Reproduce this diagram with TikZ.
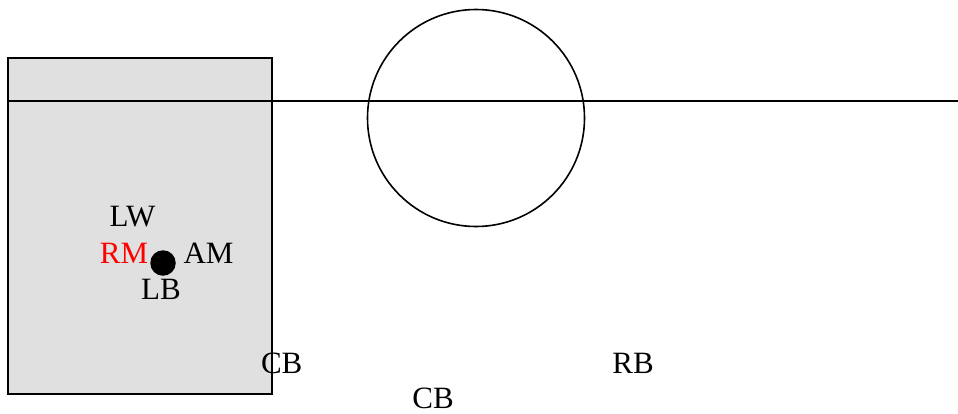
\documentclass[tikz,border=0pt]{standalone}
\usepackage{fontspec}
\setmainfont{Liberation Serif}
\definecolor{panelgray}{HTML}{E0E0E0}
\begin{document}
\begin{tikzpicture}[x=1pt,y=-1pt,
  lbl/.style={inner sep=0pt,anchor=base,font=\fontsize{31}{31}\selectfont},
  edge/.style={line width=1.6pt}]
\useasboundingbox (0,0) rectangle (958,413);
% shaded panel on the left
\draw[edge,fill=panelgray] (8,58) rectangle (272,394);
% horizontal line across the picture
\coordinate (hl) at (8,101);
\coordinate (hr) at (958,101);
\draw[edge] (hl) -- (hr);
% circle
\node[edge,draw,circle,minimum size=217pt,inner sep=0pt] (ring) at (476,118) {};
% central dot
\node[circle,fill=black,minimum size=25.5pt,inner sep=0pt] (dot) at (163,263) {};
% labels
\node[lbl] (lw) at (132.5,226) {LW};
\node[lbl,text=red] (rm) at (124,263) {RM};
\node[lbl] (am) at (208.5,263) {AM};
\node[lbl] (lb) at (161,299) {LB};
\node[lbl] (cb1) at (281.7,373) {CB};
\node[lbl] (rb) at (633,373) {RB};
\node[lbl] (cb2) at (433,408) {CB};
\end{tikzpicture}
\end{document}
